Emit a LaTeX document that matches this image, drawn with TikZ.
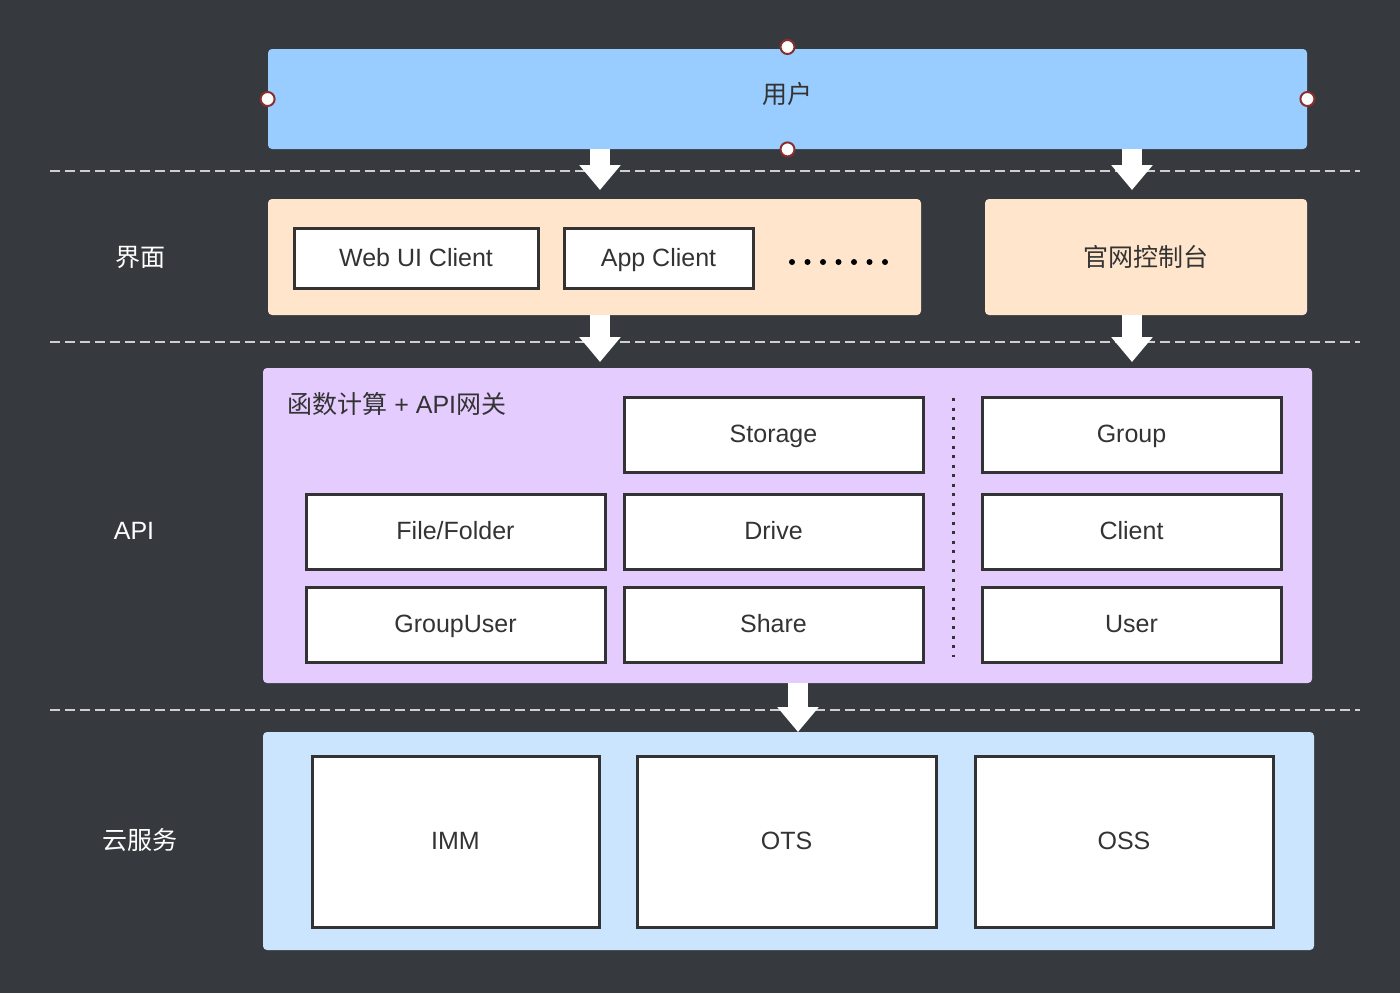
\documentclass[tikz,border=0pt]{standalone}
\usepackage{fontspec}
\setmainfont{Liberation Sans}
\newfontfamily\cjk{Noto Sans CJK SC}
\usetikzlibrary{arrows.meta}
\definecolor{bg}{HTML}{363A3F}
\definecolor{userblue}{HTML}{99CCFF}
\definecolor{peach}{HTML}{FFE5CC}
\definecolor{lilac}{HTML}{E5CCFF}
\definecolor{cloudblue}{HTML}{CCE5FF}
\definecolor{txt}{HTML}{333333}
\definecolor{edge}{HTML}{333333}
\definecolor{handle}{HTML}{8B2E2E}
\definecolor{sep}{HTML}{CFCFCF}
\tikzset{
  layer/.style={rounded corners=2pt, draw=none, text=txt, font=\fontsize{12.5}{14}\selectfont, inner sep=0pt},
  item/.style={draw=edge, line width=1.5pt, fill=white, text=txt, font=\fontsize{12.5}{14}\selectfont, inner sep=0pt},
  sidelabel/.style={text=white, font=\fontsize{12.5}{14}\selectfont},
  sepline/.style={sep, line width=1pt, dash pattern=on 5pt off 2.5pt},
  blockarrow/.style={white, line width=10pt, -{Triangle[length=12.5pt,width=20pt]}},
  hdl/.style={circle, fill=white, draw=handle, line width=1pt, minimum size=7pt, inner sep=0pt},
  centred/.style={text height=9.5pt, text depth=1.1pt},
}
\begin{document}
\begin{tikzpicture}[x=0.5pt,y=-0.5pt]
\fill[bg] (0,0) rectangle (1400,993);
\useasboundingbox (0,0) rectangle (1400,993);

% separators
\draw[sepline] (50,171) -- (1360,171);
\draw[sepline] (50,342) -- (1360,342);
\draw[sepline] (50,710) -- (1360,710);

% user layer
\node[layer, fill=userblue, minimum width=519.5pt, minimum height=50pt] (user) at (787.5,99) {};
\node[text=txt, font=\cjk\fontsize{12.5}{14}\selectfont] (usertxt) at (787.5,94) {用户};
\node[hdl] (h1) at (user.west) {};
\node[hdl] (h2) at (user.east) {};
\node[hdl] (h3) at (787.5,47) {};
\node[hdl] (h4) at (user.south) {};

% interface layer
\node[layer, fill=peach, minimum width=326.5pt, minimum height=58pt] (iface) at (594.5,257) {};
\node[layer, fill=peach, minimum width=161pt, minimum height=58pt, font=\cjk\fontsize{12.5}{14}\selectfont] (console) at (1146,257) {官网控制台};
\node[item, centred, minimum width=122pt, minimum height=30pt] (web) at (416,258) {Web UI Client};
\node[item, centred, minimum width=94.5pt, minimum height=30pt] (app) at (658.5,258) {App Client};
\foreach \i in {0,...,6} \fill[black] (792+15.5*\i,262) circle (1.5pt);

% API layer
\node[layer, fill=lilac, minimum width=524.5pt, minimum height=157.5pt] (api) at (787.5,525.5) {};
\node[anchor=west, text=txt, font=\fontsize{12.5}{14}\selectfont, inner sep=0pt] (fc) at (287,404) {{\cjk 函数计算} + API{\cjk 网关}};
\tikzset{apibox/.style={item, centred, minimum width=149.5pt, minimum height=37.5pt}}
\node[apibox] (storage) at (773.5,434.5) {Storage};
\node[apibox] (group) at (1131.5,434.5) {Group};
\node[apibox] (file) at (455.5,531.5) {File/Folder};
\node[apibox] (drive) at (773.5,531.5) {Drive};
\node[apibox] (client) at (1131.5,531.5) {Client};
\node[apibox] (guser) at (455.5,624.5) {GroupUser};
\node[apibox] (share) at (773.5,624.5) {Share};
\node[apibox] (uuser) at (1131.5,624.5) {User};
\draw[edge, line width=1.5pt, dash pattern=on 1.5pt off 3.25pt] (953,398) -- (953,657);

% cloud layer
\node[layer, fill=cloudblue, minimum width=525.5pt, minimum height=109pt] (cloud) at (788.5,841) {};
\node[item, centred, minimum width=143.5pt, minimum height=85.5pt] (imm) at (455.5,841.5) {IMM};
\node[item, centred, minimum width=149.5pt, minimum height=85.5pt] (ots) at (786.5,841.5) {OTS};
\node[item, centred, minimum width=149pt, minimum height=85.5pt] (oss) at (1124,841.5) {OSS};

% side labels
\node[sidelabel, font=\cjk\fontsize{12.5}{14}\selectfont] (l1) at (140,257) {界面};
\node[sidelabel] (l2) at (134,531) {API};
\node[sidelabel, font=\cjk\fontsize{12.5}{14}\selectfont] (l3) at (140,840) {云服务};

% arrows
\coordinate (ax1) at (600,0);
\coordinate (ax2) at (1132,0);
\coordinate (ax3) at (798,0);
\coordinate (t1) at (600,190);
\coordinate (t2) at (1132,190);
\coordinate (t3) at (600,362);
\coordinate (t4) at (1132,362);
\coordinate (t5) at (798,732);
\draw[blockarrow] (user.south -| ax1) -- (t1);
\draw[blockarrow] (user.south -| ax2) -- (t2);
\draw[blockarrow] (iface.south -| ax1) -- (t3);
\draw[blockarrow] (console.south -| ax2) -- (t4);
\draw[blockarrow] (api.south -| ax3) -- (t5);
\end{tikzpicture}
\end{document}
